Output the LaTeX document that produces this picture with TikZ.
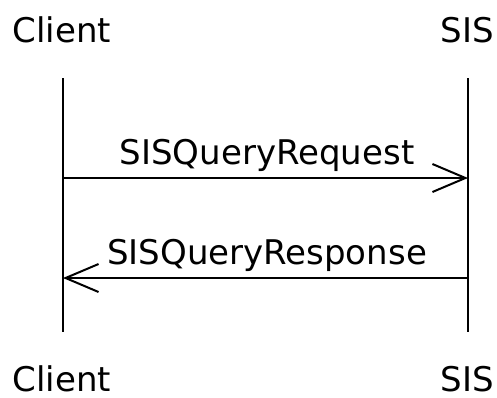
\documentclass[tikz,border=0pt]{standalone}
\usepackage{fontspec}
\setmainfont{DejaVu Sans}
\usetikzlibrary{arrows.meta}
\begin{document}
\begin{tikzpicture}[x=1pt,y=-1pt,
  ent/.style={anchor=base,inner sep=0pt,font=\fontsize{34}{40}\selectfont},
  lbl/.style={anchor=base,inner sep=0pt,font=\fontsize{34}{40}\selectfont},
  life/.style={line width=2pt},
  msg/.style={line width=2pt,-{Straight Barb[length=33pt,width=28pt,line width=2pt]}}]
\useasboundingbox (0,0) rectangle (497,397);
\node[ent] (ct) at (62,42) {Client};
\node[ent] (st) at (467,42) {SIS};
\node[ent] (cb) at (62,391) {Client};
\node[ent] (sb) at (467,391) {SIS};
\coordinate (c1) at (63,78);
\coordinate (c2) at (63,332);
\coordinate (s1) at (468,78);
\coordinate (s2) at (468,332);
\draw[life] (c1) -- (c2);
\draw[life] (s1) -- (s2);
\coordinate (ca) at (63,178);
\coordinate (sa) at (468,178);
\coordinate (cr) at (63,278);
\coordinate (sr) at (468,278);
\draw[msg] (ca) -- (sa);
\draw[msg] (sr) -- (cr);
\node[lbl] (l1) at (267,164) {SISQueryRequest};
\node[lbl] (l2) at (267,264) {SISQueryResponse};
\end{tikzpicture}
\end{document}
